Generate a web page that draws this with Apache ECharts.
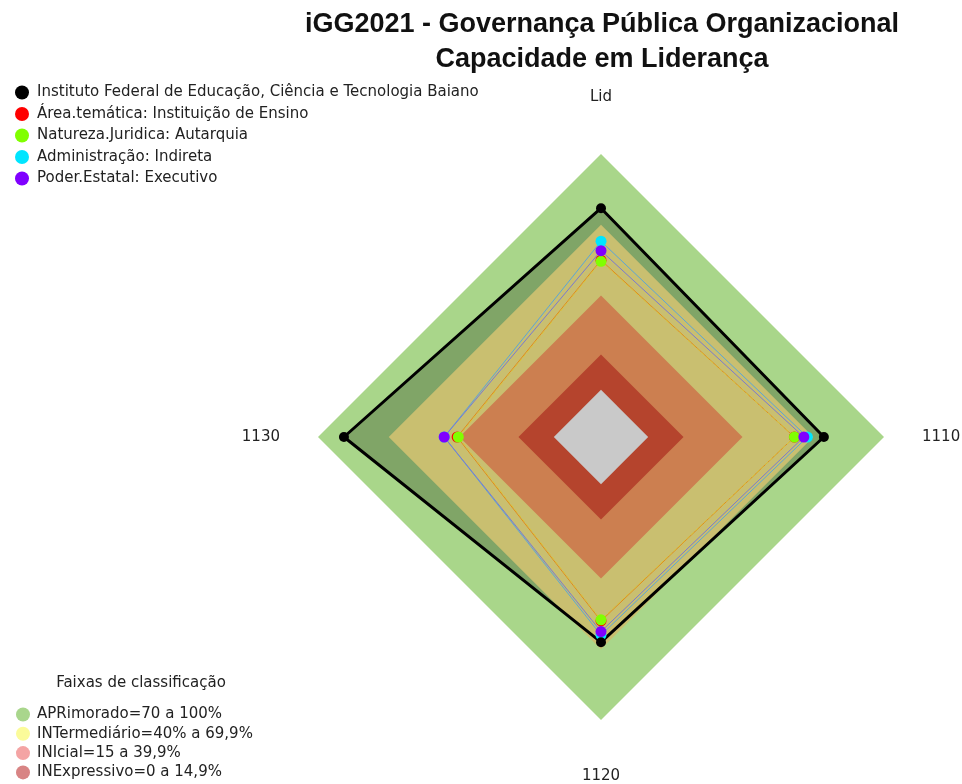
<!DOCTYPE html>
<html>
<head>
<meta charset="utf-8">
<script src="https://cdn.jsdelivr.net/npm/echarts@6/dist/echarts.min.js"></script>
<style>
  html, body { margin: 0; padding: 0; background: #fff; }
  #chart { width: 962px; height: 784px; }
</style>
</head>
<body>
<div id="chart"></div>
<script>
// eixos (ordem anti-horaria a partir do topo: Lid, 1130, 1120, 1110)
var eixos = ["Lid", "1130", "1120", "1110"];

// valores (%)
var instituto = [77, 89, 67, 74.5];
var areaTematica = [55, 41, 58, 62];
var natureza = [54.5, 40.5, 57.5, 62];
var administracao = [63, 46.5, 64, 67.5];
var poder = [59, 46.5, 62.5, 66];

var nomesSeries = [
  "Instituto Federal de Educação, Ciência e Tecnologia Baiano",
  "Área.temática: Instituição de Ensino",
  "Natureza.Juridica: Autarquia",
  "Administração: Indireta",
  "Poder.Estatal: Executivo"
];

// faixas de classificacao
var faixasNomes = ["APRimorado=70 a 100%", "INTermediário=40% a 69,9%", "INIcial=15 a 39,9%", "INExpressivo=0 a 14,9%"];
var faixasLimite = [100, 70, 40, 15];
var eixoMin = -20;

function rep(v) { return eixos.map(function () { return v; }); }

var faixasCorLegenda = ["#a9d68c", "#fbfb9a", "#f4a4a4", "#d88484"];
var faixasCorArea = ["#a9d68a", "#c9bf70", "#cc7f50", "#b5442d"];

var fonte = "DejaVu Sans, Liberation Sans, Arial";

var series = [];
// faixa verde (fundo)
series.push({
  type: "radar", name: faixasNomes[0], symbol: "none", silent: true,
  itemStyle: { color: faixasCorLegenda[0] },
  lineStyle: { width: 0 },
  areaStyle: { color: faixasCorArea[0], opacity: 1 },
  data: [{ value: rep(faixasLimite[0]) }]
});
// area do instituto (escurece o verde)
series.push({
  type: "radar", name: "areaInstituto", symbol: "none", silent: true,
  lineStyle: { width: 0 },
  areaStyle: { color: "#80a567", opacity: 1 },
  data: [{ value: instituto }]
});
for (var i = 1; i < faixasNomes.length; i++) {
  series.push({
    type: "radar", name: faixasNomes[i], symbol: "none", silent: true,
    itemStyle: { color: faixasCorLegenda[i] },
    lineStyle: { width: 0 },
    areaStyle: { color: faixasCorArea[i], opacity: 1 },
    data: [{ value: rep(faixasLimite[i]) }]
  });
}
// centro cinza (abaixo de zero)
series.push({
  type: "radar", name: "centro", symbol: "none", silent: true,
  lineStyle: { width: 0 },
  areaStyle: { color: "#c9c9c9", opacity: 1 },
  data: [{ value: rep(0) }]
});

var dados = [areaTematica, natureza, administracao, poder];
var cores = ["#ff0000", "#80ff00", "#00e5ff", "#8000ff"];
var coresLinha = ["#e08a20", "#d9c43a", "#5aa6d8", "#7a7ad0"];
var tipos = ["solid", "dashed", "solid", "solid"];
for (var j = 0; j < dados.length; j++) {
  series.push({
    type: "radar", name: nomesSeries[j + 1],
    symbol: "circle", symbolSize: 11,
    itemStyle: { color: cores[j] },
    lineStyle: { width: 1, color: coresLinha[j], type: tipos[j] },
    data: [{ value: dados[j] }]
  });
}
series.push({
  type: "radar", name: nomesSeries[0],
  symbol: "circle", symbolSize: 10,
  itemStyle: { color: "#000" },
  lineStyle: { width: 3, color: "#000" },
  data: [{ value: instituto }]
});

var option = {
  animation: false,
  backgroundColor: "#fff",
  title: [
    {
      text: "iGG2021 - Governança Pública Organizacional\nCapacidade em Liderança",
      left: 597, top: 2, textAlign: "center",
      textStyle: { fontFamily: "Liberation Sans, Arial", fontSize: 27, fontWeight: "bold", color: "#111", lineHeight: 35 }
    },
    {
      text: "Faixas de classificação",
      left: 136, top: 671, textAlign: "center",
      textStyle: { fontFamily: fonte, fontSize: 15, fontWeight: "normal", color: "#222" }
    }
  ],
  legend: [
    {
      data: nomesSeries, orient: "vertical", left: 10, top: 80,
      icon: "circle", itemWidth: 14, itemHeight: 14, itemGap: 6.5,
      selectedMode: false,
      textStyle: { fontFamily: fonte, fontSize: 15, color: "#222", padding: [0, 0, 0, 3] }
    },
    {
      data: faixasNomes, orient: "vertical", left: 11, top: 702, height: 82,
      icon: "circle", itemWidth: 14, itemHeight: 14, itemGap: 4.3,
      selectedMode: false,
      textStyle: { fontFamily: fonte, fontSize: 15, color: "#222", padding: [0, 0, 0, 2] }
    }
  ],
  radar: {
    center: [601, 437],
    radius: 283,
    startAngle: 90,
    shape: "polygon",
    splitNumber: 4,
    indicator: eixos.map(function (e) { return { name: e, min: eixoMin, max: 100 }; }),
    axisName: { color: "#222", fontSize: 15, fontFamily: fonte, padding: [11, 0, 11, 0] },
    nameGap: 38,
    axisLine: { lineStyle: { color: "rgba(255,255,255,0.35)", width: 1 } },
    splitLine: { show: false },
    splitArea: { show: false }
  },
  series: series
};

var chart = echarts.init(document.getElementById("chart"));
chart.setOption(option);
</script>
</body>
</html>
